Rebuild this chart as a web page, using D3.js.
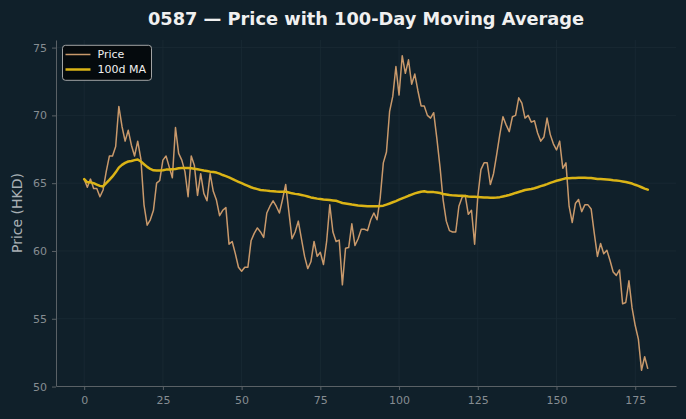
<!DOCTYPE html>
<html>
<head>
<meta charset="utf-8">
<script src="https://cdn.jsdelivr.net/npm/d3@7"></script>
<style>
  body { margin: 0; background: #10202a; }
  svg { display: block; font-family: "DejaVu Sans", sans-serif; }
</style>
</head>
<body>
<svg id="chart"></svg>
<script>
// chart values
const price = [
  65.3, 64.7, 65.3, 64.6, 64.6, 64.0, 64.5, 65.85, 67.0, 67.0,
  67.7, 70.66, 69.2, 68.1, 68.9, 67.8, 67.0, 68.1, 66.8, 63.4,
  61.9, 62.3, 63.0, 65.0, 65.2, 66.7, 67.0, 66.2, 65.4, 69.1,
  67.2, 66.7, 65.85, 64.0, 67.0, 66.3, 64.1, 65.7, 64.25, 63.7,
  65.7, 64.4, 63.75, 62.6, 63.0, 63.2, 60.5, 60.7, 59.8, 58.8,
  58.5, 58.8, 58.8, 60.75, 61.3, 61.7, 61.4, 61.0, 62.8, 63.3,
  63.7, 63.3, 62.8, 63.8, 64.9, 62.9, 60.9, 61.4, 62.2, 60.9,
  59.6, 58.7, 59.2, 60.7, 59.6, 59.9, 59.0, 60.7, 63.4, 61.4,
  60.7, 60.8, 57.5, 60.2, 60.25, 62.0, 60.4, 60.9, 61.6, 61.6,
  61.5, 62.3, 62.8, 62.3, 63.9, 66.5, 67.3, 70.3, 71.4, 73.6,
  71.5, 74.4, 73.1, 74.1, 72.3, 73.05, 71.8, 70.7, 70.7, 70.0,
  69.8, 70.2, 68.3, 66.2, 63.75, 62.2, 61.5, 61.4, 61.4, 63.3,
  63.95, 64.1, 62.7, 63.0, 60.5, 64.0, 66.0, 66.5, 66.5, 64.9,
  65.7, 67.1, 68.6, 69.9, 69.3, 68.8, 69.9, 70.0, 71.3, 70.9,
  69.8, 70.0, 69.5, 69.6, 68.7, 68.1, 68.4, 69.8, 68.6, 67.9,
  67.45, 68.1, 66.1, 66.5, 63.3, 62.1, 63.5, 63.8, 62.9, 63.4,
  63.4, 63.1, 61.3, 59.6, 60.55, 59.8, 60.05, 59.3, 58.45, 58.2,
  58.6, 56.1, 56.2, 57.8, 55.8, 54.5, 53.5, 51.2, 52.2, 51.3
];
const ma100 = [
  65.3, 65.06, 65.06, 65.0, 64.9, 64.8, 64.76, 65.0, 65.24, 65.5,
  65.8, 66.15, 66.35, 66.5, 66.6, 66.64, 66.7, 66.75, 66.6, 66.4,
  66.2, 66.05, 65.95, 65.93, 65.93, 65.95, 66.0, 66.0, 66.03, 66.05,
  66.1, 66.12, 66.12, 66.12, 66.1, 66.06, 66.03, 65.98, 65.93, 65.9,
  65.85, 65.82, 65.78, 65.7, 65.6, 65.52, 65.43, 65.32, 65.2, 65.1,
  65.0, 64.9, 64.8, 64.7, 64.62, 64.56, 64.5, 64.47, 64.45, 64.42,
  64.4, 64.38, 64.37, 64.37, 64.37, 64.31, 64.25, 64.21, 64.18, 64.13,
  64.08, 64.02, 63.95, 63.9, 63.86, 63.83, 63.8, 63.78, 63.76, 63.73,
  63.7, 63.62, 63.54, 63.5, 63.46, 63.42, 63.39, 63.36, 63.34, 63.32,
  63.3, 63.29, 63.29, 63.29, 63.31, 63.34, 63.42, 63.5, 63.59, 63.68,
  63.78, 63.88, 63.97, 64.07, 64.16, 64.25, 64.31, 64.37, 64.4, 64.35,
  64.35, 64.34, 64.31, 64.27, 64.2, 64.16, 64.12, 64.1, 64.09, 64.08,
  64.07, 64.05, 64.02, 64.0, 63.99, 63.98, 63.97, 63.95, 63.94, 63.93,
  63.93, 63.94, 63.97, 64.02, 64.07, 64.13, 64.2, 64.28, 64.35, 64.42,
  64.5, 64.54, 64.57, 64.63, 64.7, 64.78, 64.85, 64.93, 65.02, 65.1,
  65.18, 65.24, 65.3, 65.36, 65.37, 65.38, 65.39, 65.4, 65.4, 65.4,
  65.39, 65.38, 65.34, 65.3, 65.3, 65.29, 65.27, 65.25, 65.22, 65.2,
  65.17, 65.13, 65.09, 65.03, 64.97, 64.88, 64.8, 64.7, 64.6, 64.52
];
const xTicks = [0, 25, 50, 75, 100, 125, 150, 175];
const yTicks = [50, 55, 60, 65, 70, 75];
const titleText = "0587 \u2014 Price with 100-Day Moving Average";
const yLabel = "Price (HKD)";
const seriesNames = ["Price", "100d MA"];

const width = 686;
const height = 419;
const margin = { left: 56, right: 10, top: 40, bottom: 33 };

const bg = "#10202a";
const gridColor = "#1b2b35";
const axisColor = "#5a6166";
const tickText = "#868d92";
const priceColor = "#c9996b";
const maColor = "#dbb416";

const svg = d3.select("#chart").attr("width", width).attr("height", height);
svg.append("rect").attr("width", width).attr("height", height).attr("fill", bg);

const n = price.length;
const xPad = (n - 1) * 0.05;
const x = d3.scaleLinear()
    .domain([-xPad, n - 1 + xPad])
    .range([margin.left, width - margin.right]);

const yMin = d3.min(price), yMax = d3.max(price);
const yPad = (yMax - yMin) * 0.05;
const y = d3.scaleLinear()
    .domain([yMin - yPad, yMax + yPad])
    .range([height - margin.bottom, margin.top]);

// grid
svg.append("g").selectAll("line.vg")
    .data(xTicks).enter().append("line")
    .attr("x1", d => x(d)).attr("x2", d => x(d))
    .attr("y1", margin.top).attr("y2", height - margin.bottom)
    .attr("stroke", gridColor).attr("stroke-width", 0.8);
svg.append("g").selectAll("line.hg")
    .data(yTicks).enter().append("line")
    .attr("x1", margin.left).attr("x2", width - margin.right)
    .attr("y1", d => y(d)).attr("y2", d => y(d))
    .attr("stroke", gridColor).attr("stroke-width", 0.8);

// axes
const xAxis = svg.append("g")
    .attr("transform", `translate(0,${height - margin.bottom})`)
    .call(d3.axisBottom(x).tickValues(xTicks).tickSize(4).tickPadding(6).tickSizeOuter(0));
const yAxis = svg.append("g")
    .attr("transform", `translate(${margin.left},0)`)
    .call(d3.axisLeft(y).tickValues(yTicks).tickSize(4).tickPadding(5).tickSizeOuter(0));

[xAxis, yAxis].forEach(a => {
    a.select(".domain").attr("stroke", axisColor);
    a.selectAll(".tick line").attr("stroke", axisColor);
    a.selectAll(".tick text").attr("fill", tickText)
        .style("font-size", "11px").style("font-family", "DejaVu Sans, sans-serif");
});

// lines
const line = d3.line().x((d, i) => x(i)).y(d => y(d));

svg.append("path")
    .datum(price)
    .attr("d", line)
    .attr("fill", "none")
    .attr("stroke", priceColor)
    .attr("stroke-width", 1.5)
    .attr("stroke-linejoin", "round");

svg.append("path")
    .datum(ma100)
    .attr("d", line)
    .attr("fill", "none")
    .attr("stroke", maColor)
    .attr("stroke-width", 2.5)
    .attr("stroke-linejoin", "round")
    .attr("stroke-linecap", "round");

// title and label
svg.append("text")
    .attr("x", (margin.left + width - margin.right) / 2)
    .attr("y", 25)
    .attr("text-anchor", "middle")
    .attr("fill", "#f0f0f0")
    .style("font-size", "17.8px")
    .style("font-weight", "bold")
    .text(titleText);

svg.append("text")
    .attr("transform", `translate(22,${(margin.top + height - margin.bottom) / 2}) rotate(-90)`)
    .attr("text-anchor", "middle")
    .attr("fill", "#a9b0b5")
    .style("font-size", "14px")
    .text(yLabel);

// legend
const legend = svg.append("g").attr("transform", "translate(62.5,45.3)");
legend.append("rect")
    .attr("width", 89).attr("height", 35).attr("rx", 3)
    .attr("fill", "#050a0d").attr("stroke", "#c8c8c8").attr("stroke-width", 0.8);
const colors = [priceColor, maColor];
const widths = [1.5, 2.5];
seriesNames.forEach((name, i) => {
    const ly = 9.2 + i * 15;
    legend.append("line")
        .attr("x1", 3).attr("x2", 28).attr("y1", ly).attr("y2", ly)
        .attr("stroke", colors[i]).attr("stroke-width", widths[i]);
    legend.append("text")
        .attr("x", 35).attr("y", ly + 4)
        .attr("fill", "#f0f0f0")
        .style("font-size", "11px")
        .text(name);
});
</script>
</body>
</html>
